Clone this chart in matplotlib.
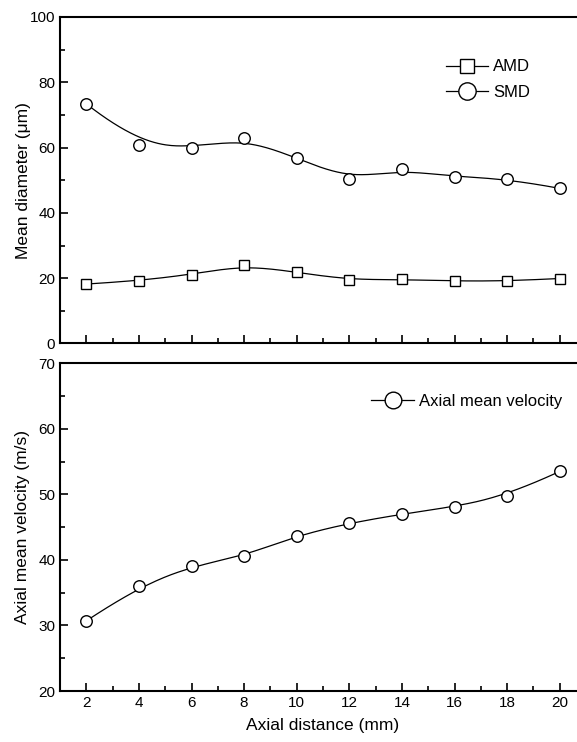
import numpy as np
import matplotlib
matplotlib.use("Agg")
import matplotlib.pyplot as plt
from matplotlib.ticker import MultipleLocator

plt.rcParams['font.family'] = ['Liberation Sans', 'DejaVu Sans']

# Data
distance = [2, 4, 6, 8, 10, 12, 14, 16, 18, 20]
amd = [18.2, 19.2, 21.1, 24.0, 21.8, 19.5, 19.6, 19.1, 19.1, 19.9]
smd = [73.4, 60.8, 59.8, 62.8, 56.8, 50.3, 53.3, 50.9, 50.5, 47.5]
velocity = [30.7, 36.0, 39.1, 40.6, 43.7, 45.6, 47.0, 48.1, 49.8, 53.5]


def bspline(x, y, k=3, num=300):
    # clamped cubic B-spline using the data as control points (Origin style)
    pts = np.column_stack([x, y]).astype(float)
    n = len(pts)
    knots = np.concatenate([np.zeros(k), np.arange(n - k + 1), np.full(k, n - k)])
    t = np.linspace(0, n - k, num)
    t[-1] -= 1e-9
    # Cox-de Boor recursion
    B = np.zeros((num, len(knots) - 1))
    for i in range(len(knots) - 1):
        B[:, i] = (t >= knots[i]) & (t < knots[i + 1])
    for d in range(1, k + 1):
        Bn = np.zeros((num, len(knots) - 1 - d))
        for i in range(len(knots) - 1 - d):
            a = knots[i + d] - knots[i]
            b = knots[i + d + 1] - knots[i + 1]
            left = (t - knots[i]) / a * B[:, i] if a > 0 else 0
            right = (knots[i + d + 1] - t) / b * B[:, i + 1] if b > 0 else 0
            Bn[:, i] = left + right
        B = Bn
    curve = B @ pts
    return curve[:, 0], curve[:, 1]


fig = plt.figure(figsize=(5.77, 7.42), dpi=100)
ax1 = fig.add_axes([0.104, 0.5371, 0.9116, 0.44])
ax2 = fig.add_axes([0.104, 0.0687, 0.9116, 0.4417])

line_kw = dict(color='black', linewidth=0.9)
mk_kw = dict(linestyle='none', markerfacecolor='white', markeredgecolor='black',
             markeredgewidth=1.0)
leg_kw = dict(markerfacecolor='white', markeredgecolor='black', markeredgewidth=1.0)

# top panel: mean diameters
bx, by = bspline(distance, amd)
ax1.plot(bx, by, **line_kw)
ax1.plot(distance, amd, marker='s', markersize=7, **mk_kw)
bx, by = bspline(distance, smd)
ax1.plot(bx, by, **line_kw)
ax1.plot(distance, smd, marker='o', markersize=8.3, **mk_kw)

h_amd, = ax1.plot([], [], marker='s', markersize=10, label='AMD', **line_kw, **leg_kw)
h_smd, = ax1.plot([], [], marker='o', markersize=12.5, label='SMD', **line_kw, **leg_kw)
ax1.legend(handles=[h_amd, h_smd], loc='upper left', bbox_to_anchor=(0.733, 0.87),
           frameon=False, fontsize=12, handlelength=2.55, handletextpad=0.3,
           borderpad=0, borderaxespad=0, labelspacing=0.62)

ax1.set_xlim(1, 21)
ax1.set_ylim(0, 100)
ax1.set_ylabel('Mean diameter (μm)', fontsize=12.5, labelpad=-1)
ax1.tick_params(labelbottom=False)

# bottom panel: axial mean velocity
bx, by = bspline(distance, velocity)
ax2.plot(bx, by, **line_kw)
ax2.plot(distance, velocity, marker='o', markersize=8.3, **mk_kw)
h_vel, = ax2.plot([], [], marker='o', markersize=12, label='Axial mean velocity',
                  **line_kw, **leg_kw)
ax2.legend(handles=[h_vel], loc='upper left', bbox_to_anchor=(0.592, 0.906),
           frameon=False, fontsize=12, handlelength=2.55, handletextpad=0.3,
           borderpad=0, borderaxespad=0)

ax2.set_xlim(1, 21)
ax2.set_ylim(20, 70)
ax2.set_xlabel('Axial distance (mm)', fontsize=12.5, labelpad=6)
ax2.set_ylabel('Axial mean velocity (m/s)', fontsize=12.5, labelpad=6)

for ax, major, minor in [(ax1, 20, 10), (ax2, 10, 5)]:
    ax.xaxis.set_major_locator(MultipleLocator(2))
    ax.xaxis.set_minor_locator(MultipleLocator(1))
    ax.yaxis.set_major_locator(MultipleLocator(major))
    ax.yaxis.set_minor_locator(MultipleLocator(minor))
    ax.tick_params(which='both', direction='in', top=False, right=False,
                   labelsize=11, width=1.2)
    ax.tick_params(which='major', length=6)
    ax.tick_params(which='minor', length=3.5)
    for s in ax.spines.values():
        s.set_linewidth(1.5)
    ax.spines['right'].set_visible(False)

ax2.set_xticks(distance)

fig.savefig('out.png', dpi=100)
